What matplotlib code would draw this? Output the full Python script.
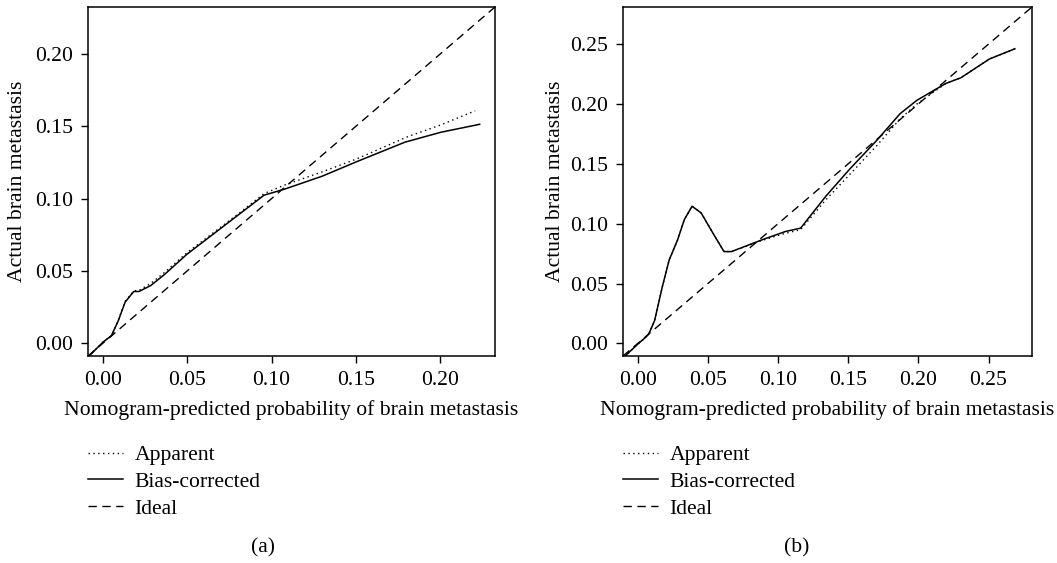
import matplotlib
matplotlib.use('Agg')
import matplotlib.pyplot as plt

plt.rcParams['font.family'] = ['Liberation Serif', 'DejaVu Serif']

# panel (a)
a_pred = [-0.0085, 0.0, 0.0051, 0.0092, 0.0132, 0.0183, 0.0214, 0.0285, 0.0366, 0.0498,
          0.0814, 0.0956, 0.1078, 0.13, 0.1506, 0.179, 0.2004, 0.2234]
a_bias = [-0.0092, 0.0007, 0.0053, 0.0157, 0.0284, 0.0358, 0.0358, 0.040, 0.0476, 0.0615,
          0.0897, 0.1024, 0.1066, 0.1155, 0.1256, 0.139, 0.1459, 0.1514]
a_pred_app = [-0.0085, 0.0, 0.0051, 0.0092, 0.0132, 0.0183, 0.0214, 0.0285, 0.0366, 0.0498,
              0.0814, 0.0956, 0.108, 0.13, 0.1506, 0.18, 0.2004, 0.2207]
a_app = [-0.0092, 0.0007, 0.0053, 0.0160, 0.029, 0.0362, 0.0365, 0.0415, 0.049, 0.0625,
         0.0905, 0.1035, 0.1095, 0.1185, 0.1275, 0.1425, 0.1510, 0.1607]
a_lim = (-0.0088, 0.2325)
a_ticks = [0.0, 0.05, 0.10, 0.15, 0.20]

# panel (b)
b_pred = [-0.0096, 0.0, 0.0055, 0.0079, 0.012, 0.0175, 0.0224, 0.0284, 0.0332, 0.0387,
          0.0452, 0.0536, 0.0615, 0.0668, 0.0885, 0.1053, 0.1161, 0.1341, 0.151, 0.1702,
          0.187, 0.199, 0.2195, 0.2303, 0.2507, 0.2688]
b_bias = [-0.0112, -0.0006, 0.005, 0.0079, 0.019, 0.0472, 0.0697, 0.0865, 0.1034, 0.1146,
          0.109, 0.0921, 0.0767, 0.0767, 0.0865, 0.0935, 0.0963, 0.123, 0.1455, 0.1694,
          0.1919, 0.2031, 0.2171, 0.2219, 0.2376, 0.2461]
b_app = [-0.0112, -0.0006, 0.005, 0.0079, 0.019, 0.0472, 0.0697, 0.0865, 0.1034, 0.1146,
         0.109, 0.0921, 0.0767, 0.0767, 0.0860, 0.0920, 0.0950, 0.120, 0.141, 0.165,
         0.1876, 0.200, 0.2171, 0.2219, 0.2376, 0.2461]
b_lim = (-0.0105, 0.281)
b_ticks = [0.0, 0.05, 0.10, 0.15, 0.20, 0.25]

xlabel = 'Nomogram-predicted probability of brain metastasis'
ylabel = 'Actual brain metastasis'
legend_labels = ['Apparent', 'Bias-corrected', 'Ideal']

fs = 15.6
fig = plt.figure(figsize=(10.57, 5.63), dpi=100)
ax_a = fig.add_axes([88 / 1057, 1 - 356 / 563, 407 / 1057, 349 / 563])
ax_b = fig.add_axes([623 / 1057, 1 - 356 / 563, 409 / 1057, 349 / 563])

panels = [
    (ax_a, a_pred_app, a_app, a_pred, a_bias, a_lim, a_ticks, -0.172, '(a)', 263),
    (ax_b, b_pred, b_app, b_pred, b_bias, b_lim, b_ticks, -0.164, '(b)', 797),
]

for ax, xp, ya, xb, yb, lim, ticks, ylab_x, cap, cap_x in panels:
    h1, = ax.plot(xp, ya, color='black', lw=1.0, linestyle=(0, (1, 2.5)))
    h2, = ax.plot(xb, yb, color='black', lw=1.1)
    h3, = ax.plot(lim, lim, color='black', lw=1.0, linestyle=(0, (6, 4)))
    ax.set_xlim(lim)
    ax.set_ylim(lim)
    ax.set_xticks(ticks)
    ax.set_yticks(ticks)
    ax.set_xticklabels(['%.2f' % t for t in ticks])
    ax.set_yticklabels(['%.2f' % t for t in ticks])
    ax.tick_params(direction='out', length=5, width=1, labelsize=fs, pad=6)
    for s in ax.spines.values():
        s.set_linewidth(1.1)
    ax.set_xlabel(xlabel, fontsize=fs, va='center')
    ax.xaxis.set_label_coords(0.5, -0.155)
    ax.set_ylabel(ylabel, fontsize=fs, va='center')
    ax.yaxis.set_label_coords(ylab_x, 0.5)

    pos = ax.get_position()
    ax.legend([h1, h2, h3], legend_labels, loc='upper left',
              bbox_to_anchor=(pos.x0, 1 - 445 / 563), bbox_transform=fig.transFigure,
              frameon=False, fontsize=fs, handlelength=1.6, handletextpad=0.55,
              borderpad=0, borderaxespad=0, labelspacing=0.3)
    fig.text(cap_x / 1057, 1 - 548 / 563, cap, fontsize=fs, ha='center', va='center')

fig.savefig('out.png', dpi=100)
